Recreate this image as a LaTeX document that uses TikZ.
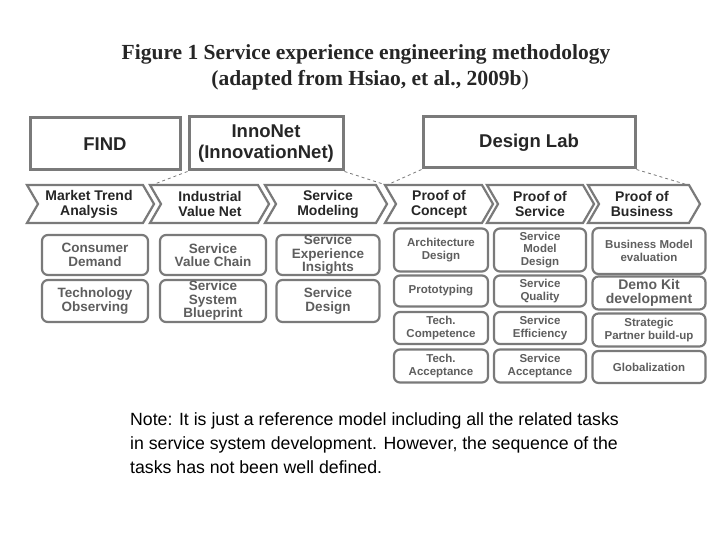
\documentclass[tikz,border=0pt]{standalone}
\usepackage{fontspec}
\setmainfont{Liberation Sans}
\newfontfamily\tfont{Liberation Serif}
\definecolor{bd}{HTML}{7A7A7A}
\definecolor{tx}{HTML}{5E5E5E}
\begin{document}
\begin{tikzpicture}[x=1pt,y=-1pt,
  big/.style={draw=bd,line width=3pt,inner sep=0pt,font=\bfseries\fontsize{18.5}{20.5}\selectfont,text=black!85,align=center},
  rb/.style={draw=bd,line width=2.2pt,rounded corners=6pt,inner sep=0pt,align=center,text=tx,font=\bfseries\fontsize{13.5}{13.5}\selectfont},
  rs/.style={rb,font=\bfseries\fontsize{11.5}{12.5}\selectfont},
  chev/.style={draw=bd,line width=2.2pt,line join=miter},
  ct/.style={font=\bfseries\fontsize{14}{15}\selectfont,align=center,text=black!85},
  dl/.style={dashed,draw=bd,line width=0.8pt}]
\useasboundingbox (0,0) rectangle (720,540);
\fill[white] (0,0) rectangle (720,540);
\node[font=\tfont\bfseries\fontsize{21.5}{23}\selectfont,text=black!85] (t1) at (366,54) {Figure 1 Service experience engineering methodology};
\node[font=\tfont\bfseries\fontsize{21.5}{23}\selectfont,text=black!85] (t2) at (370,80) {(adapted from Hsiao, et al., 2009b\textmd{)}};
% top boxes
\node[big,minimum width=150pt,minimum height=52pt] (find) at (105,144) {FIND};
\node[big,minimum width=154pt,minimum height=53pt] (inno) at (266,143.5) {InnoNet\\(InnovationNet)};
\node[big,minimum width=212pt,minimum height=51pt] (lab) at (529,142.5) {Design Lab};
% chevrons
\newcommand\mychev[2]{\draw[chev] (#1,185) -- (#2-11,185) -- (#2,204) -- (#2-11,223) -- (#1,223) -- (#1+11,204) -- cycle;}
\mychev{27}{154}\mychev{150}{269}\mychev{265}{387}\mychev{385}{493}\mychev{487}{594}\mychev{588}{700}
\node[ct] (c1) at (89,204) {Market Trend\\Analysis};
\node[ct] (c2) at (210,204) {Industrial\\Value Net};
\node[ct] (c3) at (328,204) {Service\\Modeling};
\node[ct] (c4) at (439,204) {Proof of\\Concept};
\node[ct] (c5) at (540,204) {Proof of\\Service};
\node[ct] (c6) at (642,204) {Proof of\\Business};
\coordinate (d1) at (152,185); \coordinate (d2) at (386,185);
\coordinate (d3) at (387,185); \coordinate (d4) at (688,185);
\draw[dl] (inno.south west) -- (d1);
\draw[dl] (inno.south east) -- (d2);
\draw[dl] (lab.south west) -- (d3);
\draw[dl] (lab.south east) -- (d4);
% left boxes
\node[rb,minimum width=106pt,minimum height=40pt] (a1) at (95,255) {Consumer\\Demand};
\node[rb,minimum width=106pt,minimum height=42pt] (a2) at (95,301) {Technology\\Observing};
\node[rb,minimum width=106pt,minimum height=40pt] (b1) at (213,255) {Service\\Value Chain};
\node[rb,minimum width=106pt,minimum height=42pt] (b2) at (213,301) {Service\\System\\Blueprint};
\node[rb,minimum width=103pt,minimum height=40pt] (e1) at (328,255) {Service\\Experience\\Insights};
\node[rb,minimum width=103pt,minimum height=42pt] (e2) at (328,301) {Service\\Design};
% right boxes
\node[rs,minimum width=94pt,minimum height=43pt] (p1) at (441,250) {Architecture\\Design};
\node[rs,minimum width=94pt,minimum height=31pt] (p2) at (441,291) {Prototyping};
\node[rs,minimum width=94pt,minimum height=32pt] (p3) at (441,328) {Tech.\\Competence};
\node[rs,minimum width=94pt,minimum height=33pt] (p4) at (441,366) {Tech.\\Acceptance};
\node[rs,minimum width=92pt,minimum height=43pt] (s1) at (540,250) {Service\\Model\\Design};
\node[rs,minimum width=92pt,minimum height=31pt] (s2) at (540,291) {Service\\Quality};
\node[rs,minimum width=92pt,minimum height=32pt] (s3) at (540,328) {Service\\Efficiency};
\node[rs,minimum width=92pt,minimum height=33pt] (s4) at (540,366) {Service\\Acceptance};
\node[rs,minimum width=113pt,minimum height=46pt] (q1) at (649,251) {Business Model\\evaluation};
\node[rb,minimum width=113pt,minimum height=33pt,font=\bfseries\fontsize{14}{14}\selectfont] (q2) at (649,293) {Demo Kit\\development};
\node[rs,minimum width=113pt,minimum height=33pt] (q3) at (649,330) {Strategic\\Partner build-up};
\node[rs,minimum width=113pt,minimum height=32pt] (q4) at (649,367) {Globalization};
% note
\node[anchor=north west,align=left,font=\fontsize{17.7}{24}\selectfont,inner sep=0pt] (note) at (130,412) {Note: It is just a reference model including all the related tasks\\in service system development. However, the sequence of the\\tasks has not been well defined.};
\end{tikzpicture}
\end{document}
